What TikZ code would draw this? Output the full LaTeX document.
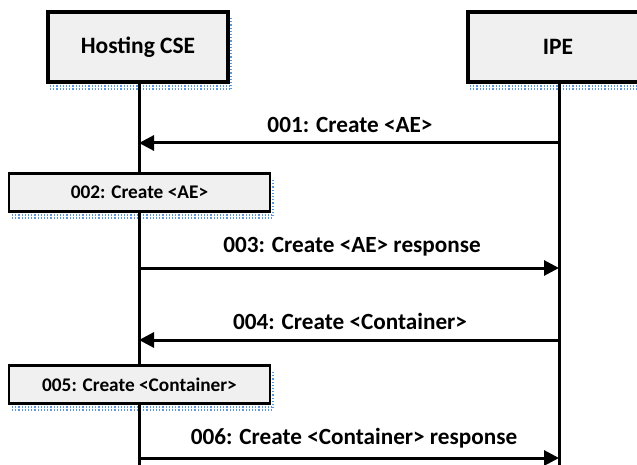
\documentclass[tikz,border=0pt]{standalone}
\usepackage{fontspec}
\setmainfont{Carlito}
\usetikzlibrary{arrows.meta}
\definecolor{boxfill}{RGB}{240,240,240}
\definecolor{shadowblue}{RGB}{90,150,220}
\tikzset{
  head/.style={draw=black, line width=3.8pt, fill=boxfill, minimum width=180pt, minimum height=70pt, font=\bfseries\fontsize{23.5}{28}\selectfont, inner sep=0pt},
  actbox/.style={draw=black, line width=2.2pt, fill=boxfill, minimum width=261pt, minimum height=38pt, font=\bfseries\fontsize{19.3}{22}\selectfont, inner sep=0pt},
  lifeline/.style={line width=3pt, black},
  msg/.style={line width=3pt, black, -{Triangle[length=15pt,width=15pt]}},
  msglabel/.style={font=\bfseries\fontsize{23.2}{27}\selectfont, inner sep=0pt},
  shadowline/.style={shadowblue, dotted, line width=1.2pt},
}
\begin{document}
\begin{tikzpicture}[x=1pt,y=-1pt]
\useasboundingbox (0,0) rectangle (637,465);
% lifelines
\coordinate (cseEnd) at (139,465);
\coordinate (ipeEnd) at (559,465);
% shadows
\draw[shadowline] (50,86) -- (231,86);
\draw[shadowline] (50,89) -- (231,89);
\draw[shadowline] (231,18) -- (231,89);
\draw[shadowline] (470,86) -- (637,86);
\draw[shadowline] (470,89) -- (637,89);
\draw[shadowline] (12,215) -- (273,215);
\draw[shadowline] (12,218) -- (273,218);
\draw[shadowline] (273,180) -- (273,218);
\draw[shadowline] (12,407) -- (273,407);
\draw[shadowline] (12,410) -- (273,410);
\draw[shadowline] (273,372) -- (273,410);
\node[head] (cse) at (138,47) {Hosting CSE};
\node[head] (ipe) at (558,47) {IPE};
\draw[lifeline] (cse.south -| cseEnd) -- (cseEnd);
\draw[lifeline] (ipe.south -| ipeEnd) -- (ipeEnd);
\node[actbox] (b2) at (139.5,192.5) {002: Create <AE>};
\node[actbox] (b5) at (139.5,384.5) {005: Create <Container>};
% messages
\coordinate (m1s) at (559,143); \coordinate (m1e) at (139,143);
\coordinate (m3s) at (139,268); \coordinate (m3e) at (559,268);
\coordinate (m4s) at (559,340); \coordinate (m4e) at (139,340);
\coordinate (m6s) at (139,458); \coordinate (m6e) at (559,458);
\draw[msg] (m1s) -- (m1e);
\draw[msg] (m3s) -- (m3e);
\draw[msg] (m4s) -- (m4e);
\draw[msg] (m6s) -- (m6e);
\node[msglabel] (l1) at (350,125) {001: Create <AE>};
\node[msglabel] (l3) at (352,247) {003: Create <AE> response};
\node[msglabel] (l4) at (350,321) {004: Create <Container>};
\node[msglabel] (l6) at (354,438) {006: Create <Container> response};
\end{tikzpicture}
\end{document}
